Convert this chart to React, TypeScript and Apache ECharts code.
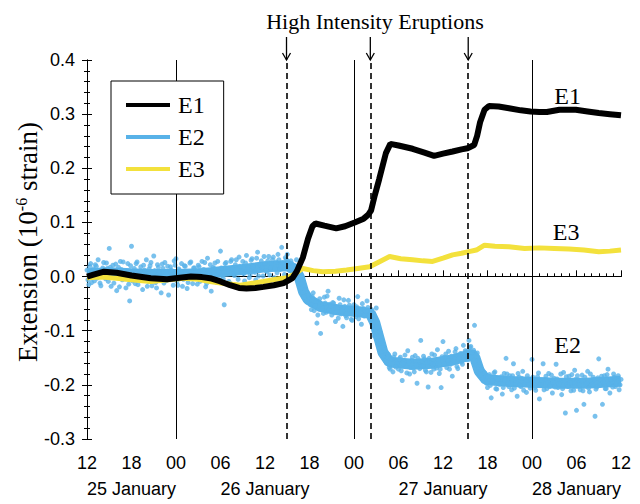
import React, { useEffect, useRef } from "react";
import * as echarts from "echarts";

// ---- Axis / annotation data ----
const xTickLabels = ["12", "18", "00", "06", "12", "18", "00", "06", "12", "18", "00", "06", "12"];
const dayLabels = ["25 January", "26 January", "27 January", "28 January"];
const dayLabelHours = [6, 24, 48, 66];
const midnightHours = [12, 36, 60];
const eruptionHours = [26.9, 38.2, 51.4];
const seriesNames = ["E1", "E2", "E3"];

// hours since 25 January 12:00, extension (10^-6 strain)
const e1Hours = [0, 1, 2.3, 4, 6, 8.6, 10.8, 12.5, 14, 15.5, 16.6, 18, 19.3, 20.5, 21.5, 22.7, 23.8, 25.2, 26.5, 27.3, 27.7, 28.3, 29.1, 29.8, 30.4, 30.8, 32, 33.6, 34.8, 36.1, 37.3, 37.9, 38.3, 38.8, 39.4, 40.3, 40.9, 42, 43.9, 45.5, 46.8, 48, 49.3, 50.5, 51.3, 52.2, 52.6, 53, 53.6, 54.2, 55.5, 56.9, 58.5, 59.8, 61, 62, 63.7, 65.9, 67.5, 69, 70.5, 72];
const e1Values = [0.0, 0.004, 0.009, 0.007, 0.002, -0.003, -0.005, -0.002, 0.0, -0.001, -0.003, -0.009, -0.016, -0.021, -0.022, -0.021, -0.019, -0.016, -0.012, -0.006, -0.003, 0.01, 0.035, 0.07, 0.093, 0.098, 0.094, 0.089, 0.093, 0.1, 0.107, 0.114, 0.122, 0.15, 0.18, 0.228, 0.245, 0.242, 0.236, 0.229, 0.223, 0.227, 0.231, 0.235, 0.237, 0.243, 0.26, 0.285, 0.308, 0.315, 0.314, 0.311, 0.307, 0.305, 0.304, 0.304, 0.308, 0.308, 0.305, 0.302, 0.3, 0.298];

const e3Hours = [0, 2, 4, 6, 8.6, 11, 13, 15, 16.6, 18.5, 20.7, 22.5, 23.8, 25.5, 27, 28, 29.1, 30.5, 31.8, 33.5, 35, 36.5, 38.1, 39.5, 40.8, 42.3, 43.9, 45.3, 46.6, 48, 49.3, 50.5, 51.5, 52.5, 53.6, 55, 56.9, 59, 61, 63, 65, 67, 69, 70.5, 72];
const e3Values = [-0.002, -0.001, -0.003, -0.006, -0.009, -0.006, -0.003, -0.005, -0.009, -0.013, -0.016, -0.012, -0.009, -0.005, -0.002, 0.005, 0.015, 0.011, 0.009, 0.01, 0.012, 0.015, 0.018, 0.028, 0.037, 0.033, 0.031, 0.029, 0.028, 0.034, 0.04, 0.043, 0.046, 0.049, 0.058, 0.056, 0.055, 0.052, 0.053, 0.052, 0.051, 0.049, 0.046, 0.047, 0.049];

// E2: dense core of the scattered band
const e2CoreHours = [0, 3, 6, 9, 12, 15, 18, 21, 24, 27, 28, 28.6, 29.2, 29.8, 31.4, 34, 36.7, 38.2, 38.8, 39.4, 39.9, 40.8, 43.9, 46.6, 49.3, 51.3, 51.8, 52.3, 52.9, 53.8, 56.9, 59.8, 63.7, 67.3, 71.3, 72];
const e2CoreValues = [0.005, 0.007, 0.005, 0.004, 0.004, 0.005, 0.009, 0.013, 0.018, 0.02, 0.014, 0.0, -0.028, -0.042, -0.055, -0.062, -0.065, -0.068, -0.085, -0.115, -0.14, -0.158, -0.162, -0.16, -0.154, -0.146, -0.142, -0.15, -0.175, -0.19, -0.194, -0.195, -0.197, -0.197, -0.194, -0.193];

// E2: individual samples, every 0.25 h from hour 0 (set A) and from hour 0.125 (set B)
const e2StepHours = 0.25;
const e2StartA = 0;
const e2ValuesA = [
  0.012, -0.015, 0.024, 0.003, -0.008, 0.019, 0.031, -0.012, 0.008, 0.026, -0.004, 0.015,
  0.052, -0.018, 0.021, 0.009, -0.026, 0.017, 0.028, -0.006, 0.011, -0.021, 0.024, -0.045,
  0.056, 0.004, -0.013, 0.027, -0.002, 0.018, -0.024, 0.012, 0.031, -0.009, 0.02, -0.017,
  0.038, -0.011, 0.022, 0.006, -0.03, 0.015, 0.026, -0.007, -0.034, 0.018, 0.003, 0.029,
  0.033, -0.016, 0.011, 0.024, -0.005, 0.019, -0.022, 0.008, 0.027, -0.013, 0.016, 0.002,
  0.021, -0.009, 0.028, 0.013, -0.019, 0.034, 0.004, -0.027, 0.017, 0.025, -0.011, 0.009,
  0.047, 0.002, -0.052, 0.026, 0.014, -0.012, 0.031, 0.005, 0.022, -0.016, 0.036, 0.011,
  0.028, -0.008, 0.039, 0.017, 0.004, 0.033, 0.021, -0.006, 0.045, 0.012, 0.029, 0.001,
  0.024, 0.009, 0.037, 0.016, 0.031, -0.002, 0.027, 0.041, 0.013, 0.054, 0.022, 0.035,
  0.041, 0.012, 0.029, 0.004, 0.018, 0.031, -0.008, 0.006, -0.021, -0.038, -0.026, -0.047,
  -0.042, -0.061, -0.03, -0.054, -0.086, -0.047, -0.105, -0.058, -0.038, -0.066, -0.027, -0.051,
  -0.071, -0.049, -0.083, -0.058, -0.04, -0.069, -0.092, -0.055, -0.076, -0.044, -0.063, -0.081,
  -0.052, -0.074, -0.037, -0.068, -0.088, -0.059, -0.071, -0.045, -0.064, -0.079, -0.092, -0.11,
  -0.058, -0.118, -0.102, -0.141, -0.131, -0.156, -0.148, -0.168, -0.152, -0.176, -0.143, -0.161,
  -0.171, -0.149, -0.192, -0.158, -0.166, -0.137, -0.18, -0.155, -0.169, -0.146, -0.197, -0.163,
  -0.118, -0.165, -0.152, -0.176, -0.204, -0.159, -0.143, -0.171, -0.161, -0.135, -0.179, -0.205,
  -0.12, -0.149, -0.168, -0.138, -0.162, -0.184, -0.151, -0.133, -0.17, -0.145, -0.158, -0.127,
  -0.137, -0.152, -0.118, -0.129, -0.141, -0.09, -0.163, -0.155, -0.182, -0.171, -0.193, -0.186,
  -0.205, -0.181, -0.224, -0.192, -0.176, -0.208, -0.188, -0.198, -0.217, -0.179, -0.151, -0.196,
  -0.183, -0.209, -0.161, -0.197, -0.221, -0.186, -0.203, -0.175, -0.199, -0.214, -0.189, -0.206,
  -0.153, -0.196, -0.21, -0.185, -0.226, -0.201, -0.161, -0.19, -0.207, -0.179, -0.199, -0.215,
  -0.188, -0.162, -0.205, -0.193, -0.218, -0.177, -0.252, -0.199, -0.184, -0.211, -0.196, -0.173,
  -0.247, -0.191, -0.209, -0.182, -0.236, -0.199, -0.175, -0.213, -0.194, -0.186, -0.258, -0.204,
  -0.152, -0.198, -0.236, -0.183, -0.207, -0.171, -0.215, -0.194, -0.18, -0.203, -0.188, -0.209,
  -0.19,
];
const e2StartB = 0.125;
const e2ValuesB = [
  -0.006, 0.019, -0.011, 0.014, 0.022, -0.003, 0.008, -0.017, 0.016, 0.001, 0.025, -0.009,
  0.017, 0.002, -0.012, 0.023, 0.006, -0.019, 0.013, 0.027, -0.004, 0.009, -0.014, 0.02,
  -0.008, 0.015, 0.024, -0.015, 0.01, -0.006, 0.021, 0.003, -0.018, 0.014, 0.026, -0.002,
  0.011, -0.021, 0.017, 0.001, 0.023, -0.012, 0.007, 0.019, -0.005, 0.012, -0.016, 0.021,
  -0.009, 0.014, 0.002, -0.018, 0.02, 0.009, -0.011, 0.025, -0.003, 0.016, 0.007, -0.014,
  0.018, -0.004, 0.012, 0.026, -0.013, 0.006, 0.022, -0.008, 0.015, 0.001, 0.028, -0.006,
  0.016, -0.004, 0.024, 0.009, -0.009, 0.028, 0.014, 0.002, 0.031, -0.005, 0.019, 0.008,
  0.005, 0.025, 0.013, -0.002, 0.03, 0.018, 0.008, 0.034, 0.001, 0.022, 0.016, 0.037,
  0.011, 0.029, 0.003, 0.024, 0.036, 0.014, 0.007, 0.031, 0.019, 0.026, 0.004, 0.032,
  0.028, 0.011, 0.024, 0.006, 0.019, 0.002, 0.009, -0.013, -0.029, -0.024, -0.046, -0.035,
  -0.052, -0.037, -0.063, -0.046, -0.071, -0.041, -0.059, -0.068, -0.049, -0.036, -0.062, -0.054,
  -0.048, -0.067, -0.058, -0.077, -0.052, -0.064, -0.043, -0.072, -0.061, -0.053, -0.079, -0.058,
  -0.069, -0.056, -0.078, -0.061, -0.05, -0.073, -0.064, -0.057, -0.075, -0.061, -0.083, -0.097,
  -0.093, -0.124, -0.119, -0.147, -0.136, -0.159, -0.144, -0.171, -0.153, -0.149, -0.167, -0.157,
  -0.152, -0.174, -0.161, -0.145, -0.178, -0.157, -0.168, -0.149, -0.176, -0.163, -0.151, -0.17,
  -0.166, -0.147, -0.173, -0.158, -0.151, -0.177, -0.162, -0.145, -0.169, -0.155, -0.171, -0.148,
  -0.161, -0.143, -0.156, -0.171, -0.147, -0.159, -0.139, -0.166, -0.152, -0.142, -0.162, -0.149,
  -0.139, -0.154, -0.131, -0.148, -0.136, -0.156, -0.141, -0.167, -0.172, -0.188, -0.178, -0.197,
  -0.184, -0.201, -0.193, -0.178, -0.207, -0.189, -0.199, -0.185, -0.205, -0.191, -0.18, -0.203,
  -0.197, -0.183, -0.206, -0.192, -0.179, -0.201, -0.188, -0.21, -0.194, -0.183, -0.2, -0.19,
  -0.186, -0.205, -0.193, -0.178, -0.2, -0.191, -0.209, -0.184, -0.196, -0.203, -0.182, -0.195,
  -0.204, -0.189, -0.198, -0.18, -0.207, -0.192, -0.185, -0.203, -0.196, -0.181, -0.21, -0.19,
  -0.183, -0.2, -0.192, -0.211, -0.186, -0.197, -0.206, -0.18, -0.199, -0.19, -0.208, -0.187,
  -0.201, -0.184, -0.195, -0.207, -0.181, -0.199, -0.19, -0.204, -0.186, -0.198, -0.183, -0.2,
];

const BLACK = "#000000";
const BLUE = "#58b2e8";
const YELLOW = "#f3e13c";
const SERIF = "'Liberation Serif', 'Times New Roman', serif";
const SANS = "'Liberation Sans', Arial, sans-serif";

const pairs = (xs: number[], ys: number[]) => xs.map((x, i) => [x, ys[i]]);
const sampled = (start: number, step: number, ys: number[]) => ys.map((v, i) => [start + i * step, v]);

export default function App() {
  const ref = useRef<HTMLDivElement>(null);

  useEffect(() => {
    if (!ref.current) return;
    const chart = echarts.init(ref.current, null, { renderer: "svg" });

    const e2Points = [
      ...sampled(e2StartA, e2StepHours, e2ValuesA),
      ...sampled(e2StartB, e2StepHours, e2ValuesB),
    ];

    const xBase = {
      type: "value" as const,
      min: 0,
      max: 72,
      interval: 6,
      splitLine: { show: false },
    };
    const yBase = {
      type: "value" as const,
      min: -0.3,
      max: 0.4,
      interval: 0.1,
      splitLine: { show: false },
    };

    const option: any = {
      animation: false,
      backgroundColor: "#ffffff",
      grid: { left: 87, right: 19, top: 60, bottom: 65, containLabel: false },
      legend: {
        data: seriesNames,
        orient: "vertical",
        left: 111,
        top: 81,
        padding: [12, 19, 13, 15],
        backgroundColor: "#ffffff",
        borderColor: BLACK,
        borderWidth: 1,
        icon: "rect",
        itemWidth: 44,
        itemHeight: 4,
        itemGap: 8,
        selectedMode: false,
        itemStyle: { borderWidth: 0 },
        textStyle: { fontFamily: SERIF, fontSize: 24, color: BLACK, padding: [0, 0, 0, 3] },
        z: 10,
      },
      xAxis: [
        {
          ...xBase,
          position: "bottom",
          axisLine: { lineStyle: { color: BLACK, width: 1 } },
          axisTick: { inside: true, length: 6, lineStyle: { color: BLACK } },
          minorTick: { show: true, splitNumber: 6, length: 3, lineStyle: { color: BLACK } },
          axisLabel: {
            formatter: (v: number) => xTickLabels[Math.round(v / 6)] ?? "",
            fontFamily: SANS,
            fontSize: 18,
            color: BLACK,
            margin: 15,
            showMinLabel: true,
            showMaxLabel: true,
          },
        },
        {
          ...xBase,
          position: "top",
          axisLine: { lineStyle: { color: BLACK, width: 1 } },
          axisTick: { inside: false, length: 6, lineStyle: { color: BLACK } },
          minorTick: { show: true, splitNumber: 6, length: 3, lineStyle: { color: BLACK } },
          axisLabel: { show: false },
        },
        {
          ...xBase,
          position: "bottom",
          offset: 26,
          axisLine: { show: false },
          axisTick: { show: false },
          axisLabel: {
            formatter: (v: number) => {
              const i = dayLabelHours.indexOf(Math.round(v));
              return i >= 0 ? dayLabels[i] : "";
            },
            fontFamily: SANS,
            fontSize: 18,
            color: BLACK,
            margin: 15,
            showMinLabel: true,
            showMaxLabel: true,
          },
        },
      ],
      yAxis: [
        {
          ...yBase,
          position: "left",
          axisLine: { show: true, lineStyle: { color: BLACK, width: 1 } },
          axisTick: { show: true, inside: false, length: 5, lineStyle: { color: BLACK } },
          minorTick: { show: true, splitNumber: 5, length: 3, lineStyle: { color: BLACK } },
          axisLabel: {
            formatter: (v: number) => v.toFixed(1),
            fontFamily: SANS,
            fontSize: 18,
            color: BLACK,
            margin: 12,
          },
        },
        {
          ...yBase,
          position: "right",
          axisLine: { show: true, lineStyle: { color: BLACK, width: 1 } },
          axisTick: { show: true, inside: false, length: 5, lineStyle: { color: BLACK } },
          minorTick: { show: true, splitNumber: 5, length: 3, lineStyle: { color: BLACK } },
          axisLabel: { show: false },
        },
      ],
      series: [
        {
          name: "guides",
          type: "line",
          data: [],
          z: 1,
          silent: true,
          markLine: {
            silent: true,
            symbol: ["none", "none"],
            label: { show: false },
            animation: false,
            data: [
              ...midnightHours.map((h) => ({ xAxis: h, lineStyle: { color: BLACK, width: 1, type: "solid" } })),
              ...eruptionHours.map((h) => ({ xAxis: h, lineStyle: { color: BLACK, width: 1.6, type: [6, 4] } })),
            ],
          },
        },
        {
          name: "E2",
          type: "line",
          data: pairs(e2CoreHours, e2CoreValues),
          showSymbol: false,
          color: BLUE,
          lineStyle: { color: BLUE, width: 11 },
          z: 2,
        },
        {
          name: "E2",
          type: "scatter",
          data: e2Points,
          symbol: "circle",
          symbolSize: 5,
          color: BLUE,
          itemStyle: { color: BLUE },
          z: 2,
        },
        {
          name: "E3",
          type: "line",
          data: pairs(e3Hours, e3Values),
          showSymbol: false,
          color: YELLOW,
          lineStyle: { color: YELLOW, width: 5 },
          z: 3,
        },
        {
          name: "E1",
          type: "line",
          data: pairs(e1Hours, e1Values),
          showSymbol: false,
          color: BLACK,
          lineStyle: { color: BLACK, width: 6 },
          z: 4,
        },
      ],
    };

    chart.setOption(option);

    const px = (h: number) => chart.convertToPixel({ xAxisIndex: 0 }, h) as number;
    const py = (v: number) => chart.convertToPixel({ yAxisIndex: 0 }, v) as number;
    const yTop = py(0.4);

    const arrows: any[] = [];
    eruptionHours.forEach((h) => {
      const x = px(h);
      arrows.push({
        type: "line",
        shape: { x1: x, y1: yTop - 23, x2: x, y2: yTop },
        style: { stroke: BLACK, lineWidth: 1.3 },
        z: 20,
      });
      arrows.push({
        type: "polyline",
        shape: { points: [[x - 4, yTop - 7], [x, yTop], [x + 4, yTop - 7]] },
        style: { stroke: BLACK, fill: null, lineWidth: 1.3 },
        z: 20,
      });
    });

    chart.setOption({
      graphic: [
        ...arrows,
        {
          type: "text",
          x: 375,
          y: 21,
          style: {
            text: "High Intensity Eruptions",
            font: `22px ${SERIF}`,
            fill: BLACK,
            align: "center",
            verticalAlign: "middle",
          },
          z: 20,
        },
        {
          type: "text",
          x: 28,
          y: 242,
          rotation: Math.PI / 2,
          style: {
            text: "{a|Extension (10}{b|-6}{a| strain)}",
            align: "center",
            verticalAlign: "middle",
            rich: {
              a: { fontFamily: SERIF, fontSize: 27, fill: BLACK, lineHeight: 30 },
              b: { fontFamily: SERIF, fontSize: 16, fill: BLACK, lineHeight: 30, padding: [0, 0, 14, 0] },
            },
          },
          z: 20,
        },
        {
          type: "text",
          x: px(64.8),
          y: py(0.333),
          style: { text: "E1", font: `24px ${SERIF}`, fill: BLACK, align: "center", verticalAlign: "middle" },
          z: 20,
        },
        {
          type: "text",
          x: px(64.6),
          y: py(0.082),
          style: { text: "E3", font: `24px ${SERIF}`, fill: BLACK, align: "center", verticalAlign: "middle" },
          z: 20,
        },
        {
          type: "text",
          x: px(64.8),
          y: py(-0.127),
          style: { text: "E2", font: `24px ${SERIF}`, fill: BLACK, align: "center", verticalAlign: "middle" },
          z: 20,
        },
      ],
    });

    return () => chart.dispose();
  }, []);

  return (
    <div
      ref={ref}
      style={{ position: "fixed", left: 0, top: 0, width: 640, height: 504, background: "#fff" }}
    />
  );
}
